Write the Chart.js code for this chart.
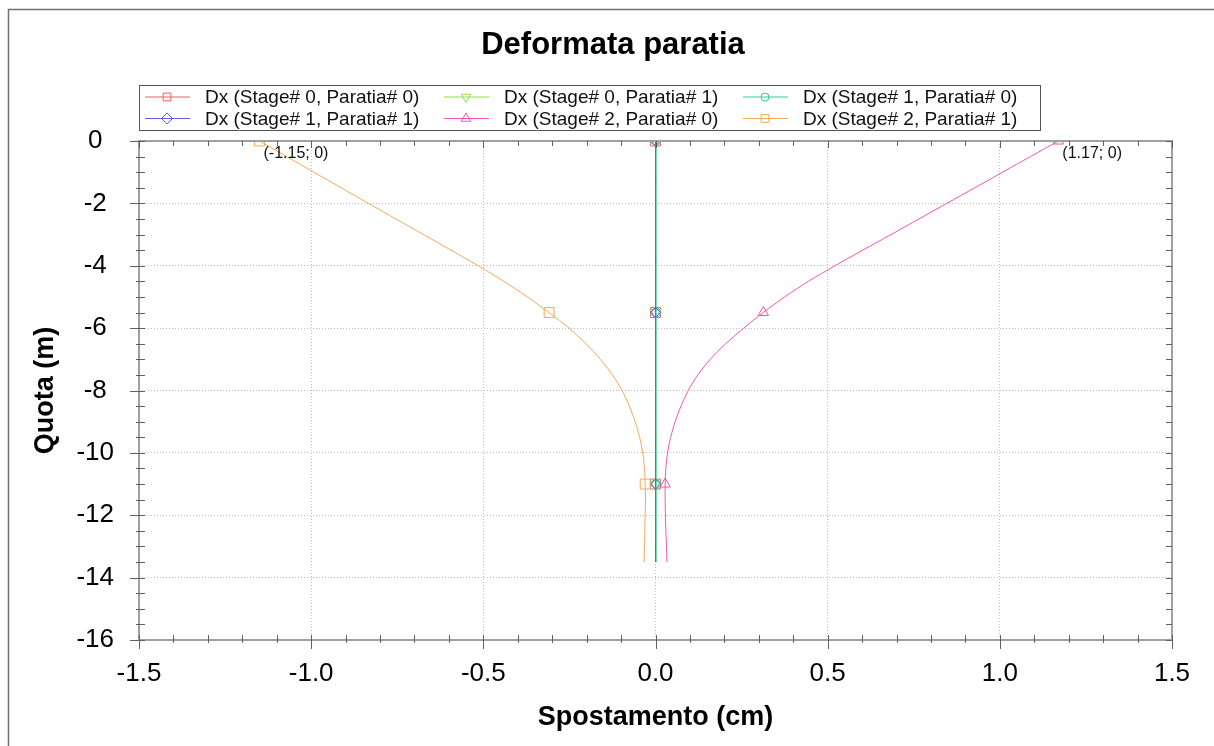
<!DOCTYPE html>
<html>
<head>
<meta charset="utf-8">
<title>Deformata paratia</title>
<script src="https://cdn.jsdelivr.net/npm/chart.js@4.4.1/dist/chart.umd.min.js"></script>
<style>
  html, body { margin: 0; padding: 0; background: #fff; }
  #wrap { position: relative; width: 1214px; height: 746px; }
</style>
</head>
<body>
<div id="wrap"><canvas id="deformata"></canvas></div>
<script>
// quota (m) of each computed node along the wall
var quota = [0, -0.5, -1, -1.5, -2, -2.5, -3, -3.5, -4, -4.5, -5, -5.5, -6, -6.5,
             -7, -7.5, -8, -8.5, -9, -9.5, -10, -10.5, -11, -11.5, -12, -12.5, -13, -13.5];

// spostamenti Dx (cm), one array per stage / paratia
var dxStage0Par0 = [0, 0, 0, 0, 0, 0, 0, 0, 0, 0, 0, 0, 0, 0, 0, 0, 0, 0, 0, 0, 0, 0, 0, 0, 0, 0, 0, 0];
var dxStage0Par1 = [0, 0, 0, 0, 0, 0, 0, 0, 0, 0, 0, 0, 0, 0, 0, 0, 0, 0, 0, 0, 0, 0, 0, 0, 0, 0, 0, 0];
var dxStage1Par0 = [0.002, 0.002, 0.002, 0.002, 0.002, 0.002, 0.002, 0.002, 0.002, 0.002, 0.002, 0.002, 0.002, 0.002,
                    0.002, 0.002, 0.002, 0.002, 0.002, 0.002, 0.002, 0.002, 0.002, 0.002, 0.002, 0.002, 0.002, 0.002];
var dxStage1Par1 = [0, 0, 0, 0, 0, 0, 0, 0, 0, 0, 0, 0, 0, 0, 0, 0, 0, 0, 0, 0, 0, 0, 0, 0, 0, 0, 0, 0];
var dxStage2Par0 = [1.17, 1.089, 1.008, 0.927, 0.846, 0.765, 0.684, 0.602, 0.521, 0.444, 0.375, 0.313, 0.256, 0.204,
                    0.159, 0.123, 0.095, 0.074, 0.057, 0.044, 0.035, 0.030, 0.028, 0.028, 0.029, 0.030, 0.032, 0.033];
var dxStage2Par1 = [-1.15, -1.071, -0.992, -0.913, -0.834, -0.754, -0.674, -0.594, -0.515, -0.440, -0.372, -0.309, -0.251, -0.202,
                    -0.160, -0.125, -0.097, -0.076, -0.059, -0.046, -0.037, -0.032, -0.030, -0.029, -0.030, -0.031, -0.032, -0.033];

var seriesLabels = ['Dx (Stage# 0, Paratia# 0)', 'Dx (Stage# 0, Paratia# 1)', 'Dx (Stage# 1, Paratia# 0)',
                    'Dx (Stage# 1, Paratia# 1)', 'Dx (Stage# 2, Paratia# 0)', 'Dx (Stage# 2, Paratia# 1)'];

// axis ticks
var xTicks = [-1.5, -1.0, -0.5, 0.0, 0.5, 1.0, 1.5];
var yTicks = [0, -2, -4, -6, -8, -10, -12, -14, -16];

// nodes that get a marker
var markerNodes = [0, 11, 22];

var FONT = 'Arial, "Liberation Sans", sans-serif';
var chartTitle = 'Deformata paratia';

function toPoints(dx) {
    return dx.map(function (v, i) { return { x: v, y: quota[i] }; });
}

function makeDataset(i, dx, color, style, rotation, radius) {
    return {
        label: seriesLabels[i],
        data: toPoints(dx),
        showLine: true,
        tension: 0.3,
        borderColor: color,
        borderWidth: 1,
        pointStyle: style,
        pointRotation: rotation,
        pointBorderColor: color,
        pointBackgroundColor: 'rgba(0, 0, 0, 0)',
        pointBorderWidth: 1,
        pointRadius: function (ctx) { return markerNodes.indexOf(ctx.dataIndex) >= 0 ? radius : 0; },
        pointHoverRadius: 0,
        order: 5 - i // first series at the bottom, like the original
    };
}

var datasets = [
    makeDataset(0, dxStage0Par0, 'rgb(235, 95, 95)', 'rect', 0, 7),
    makeDataset(1, dxStage0Par1, 'rgb(140, 225, 70)', 'triangle', 180, 6),
    makeDataset(2, dxStage1Par0, 'rgb(50, 205, 140)', 'circle', 0, 4.5),
    makeDataset(3, dxStage1Par1, 'rgb(95, 95, 235)', 'rectRot', 0, 5),
    makeDataset(4, dxStage2Par0, 'rgb(238, 85, 180)', 'triangle', 0, 6),
    makeDataset(5, dxStage2Par1, 'rgb(242, 168, 90)', 'rect', 0, 7)
];

// title, frame, minor ticks, legend box and point labels
var decorPlugin = {
    id: 'decor',
    afterDraw: function (chart) {
        var ctx = chart.ctx;
        var area = chart.chartArea;
        var xs = chart.scales.x;
        var ys = chart.scales.y;
        var i, p;
        ctx.save();

        // outer frame (cut at right/bottom)
        ctx.strokeStyle = '#707070';
        ctx.lineWidth = 1.5;
        ctx.beginPath();
        ctx.moveTo(8.5, 746);
        ctx.lineTo(8.5, 9.5);
        ctx.lineTo(1214, 9.5);
        ctx.stroke();

        // title
        ctx.fillStyle = '#000';
        ctx.font = 'bold 31px ' + FONT;
        ctx.textAlign = 'center';
        ctx.textBaseline = 'middle';
        ctx.fillText(chartTitle, 613, 45);

        // plot frame
        ctx.strokeStyle = '#a0a0a0';
        ctx.lineWidth = 2;
        ctx.strokeRect(area.left, area.top, area.width, area.height);

        // ticks
        ctx.strokeStyle = '#606060';
        ctx.lineWidth = 1;
        ctx.beginPath();
        for (i = -15; i <= 15; i++) {
            p = Math.round(xs.getPixelForValue(i / 10)) + 0.5;
            var major = (i % 5 === 0);
            ctx.moveTo(p, area.bottom - 5);
            ctx.lineTo(p, area.bottom + (major ? 9 : 3));
            ctx.moveTo(p, area.top);
            ctx.lineTo(p, area.top + (major ? 7 : 5));
        }
        for (i = 0; i <= 32; i++) {
            p = Math.round(ys.getPixelForValue(-i / 2)) + 0.5;
            var majorY = (i % 4 === 0);
            ctx.moveTo(area.left - (majorY ? 9 : 3), p);
            ctx.lineTo(area.left + 6, p);
            ctx.moveTo(area.right - 6, p);
            ctx.lineTo(area.right, p);
        }
        ctx.stroke();

        // point labels at the top of the two curves
        ctx.fillStyle = '#111';
        ctx.font = '16px ' + FONT;
        ctx.textAlign = 'left';
        ctx.textBaseline = 'alphabetic';
        [dxStage2Par1, dxStage2Par0].forEach(function (dx) {
            var px = xs.getPixelForValue(dx[0]);
            var py = ys.getPixelForValue(quota[0]);
            ctx.fillText('(' + dx[0].toFixed(2) + '; ' + quota[0] + ')', px + 4, py + 17);
        });

        // legend
        ctx.fillStyle = '#fff';
        ctx.fillRect(139, 85, 901, 45);
        ctx.strokeStyle = '#555';
        ctx.lineWidth = 1;
        ctx.strokeRect(139.5, 85.5, 901, 45);
        ctx.font = '19px ' + FONT;
        ctx.textBaseline = 'middle';
        chart.data.datasets.forEach(function (ds, k) {
            var x0 = 145 + (k % 3) * 299;
            var y0 = 97 + Math.floor(k / 3) * 21.5;
            ctx.strokeStyle = ds.borderColor;
            ctx.lineWidth = 1;
            ctx.beginPath();
            ctx.moveTo(x0, y0);
            ctx.lineTo(x0 + 45, y0);
            ctx.stroke();
            ctx.fillStyle = 'rgba(0, 0, 0, 0)';
            Chart.helpers.drawPoint(ctx, {
                pointStyle: ds.pointStyle,
                rotation: ds.pointRotation,
                radius: ds.pointStyle === 'circle' ? 4 : 5.5,
                borderWidth: 1
            }, x0 + 22, y0);
            ctx.fillStyle = '#111';
            ctx.fillText(ds.label, x0 + 60, y0 + 1);
        });

        ctx.restore();
    }
};

var deformataChart = new Chart(document.getElementById('deformata'), {
    type: 'scatter',
    data: { datasets: datasets },
    options: {
        responsive: true,
        maintainAspectRatio: false,
        animation: false,
        layout: { padding: { left: 0, right: 42, top: 141, bottom: 0 } },
        plugins: {
            legend: { display: false },
            tooltip: { enabled: false },
            title: { display: false }
        },
        scales: {
            x: {
                type: 'linear',
                min: -1.5,
                max: 1.5,
                afterBuildTicks: function (s) { s.ticks = xTicks.map(function (v) { return { value: v }; }); },
                afterFit: function (s) { s.height = 106; },
                ticks: {
                    callback: function (v) { return Number(v).toFixed(1); },
                    color: '#000',
                    font: { family: FONT, size: 26 },
                    padding: 18,
                    maxRotation: 0
                },
                grid: { color: '#bdbdbd', lineWidth: 1, drawTicks: false },
                border: { display: false, dash: [1, 2] },
                title: {
                    display: true,
                    text: 'Spostamento (cm)',
                    color: '#000',
                    font: { family: FONT, size: 27, weight: 'bold' },
                    padding: { top: 10, bottom: 12 }
                }
            },
            y: {
                type: 'linear',
                min: -16,
                max: 0,
                afterBuildTicks: function (s) { s.ticks = yTicks.map(function (v) { return { value: v }; }); },
                afterFit: function (s) { s.width = 139; },
                ticks: {
                    callback: function (v) { return String(v); },
                    color: '#000',
                    font: { family: FONT, size: 26 },
                    padding: 25,
                    crossAlign: 'center'
                },
                grid: { color: '#bdbdbd', lineWidth: 1, drawTicks: false },
                border: { display: false, dash: [1, 2] },
                title: {
                    display: true,
                    text: 'Quota (m)',
                    color: '#000',
                    font: { family: FONT, size: 27, weight: 'bold' },
                    padding: { top: 29, bottom: 29 }
                }
            }
        }
    },
    plugins: [decorPlugin]
});
</script>
</body>
</html>
